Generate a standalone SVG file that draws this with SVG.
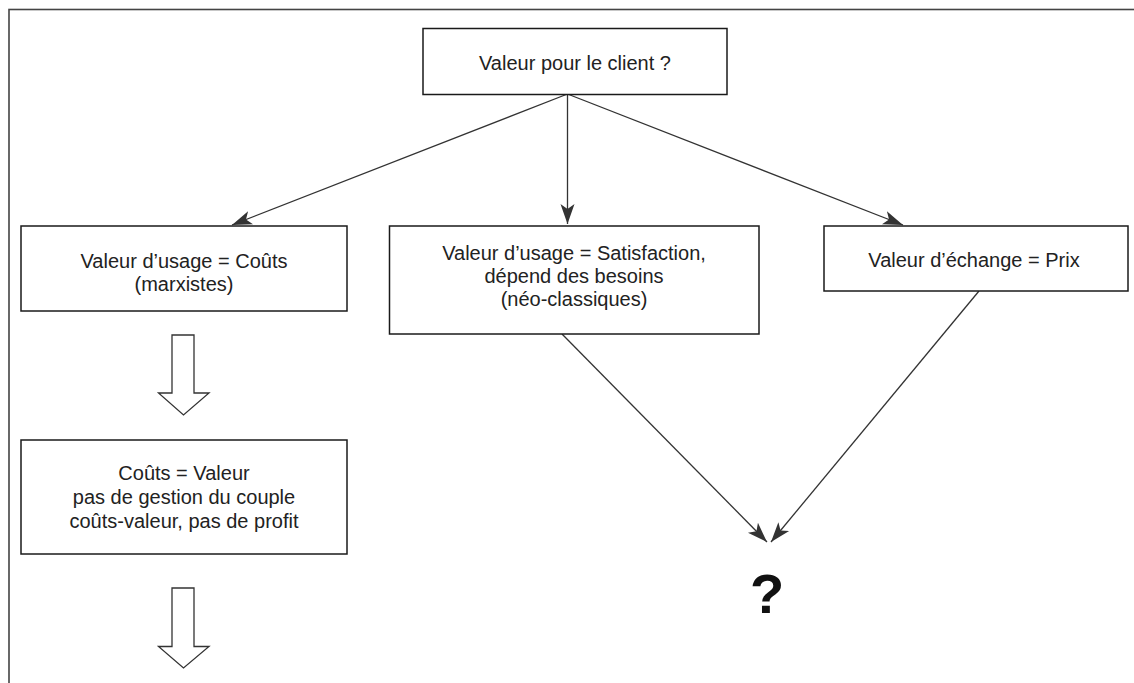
<svg xmlns="http://www.w3.org/2000/svg" width="1134" height="683" viewBox="0 0 1134 683">
<style>
.box{fill:#fff;stroke:#1a1a1a;stroke-width:1.5}
.t{font-family:"Liberation Sans","DejaVu Sans",sans-serif;font-size:20px;fill:#222;text-anchor:middle}
.q{font-family:"Liberation Sans","DejaVu Sans",sans-serif;font-size:56px;font-weight:bold;fill:#111;text-anchor:middle}
.c{stroke:#333;stroke-width:1.3;fill:none}
.hollow{fill:#fff;stroke:#333;stroke-width:1.3}
</style>
<defs>
<marker id="ah" markerUnits="userSpaceOnUse" markerWidth="22" markerHeight="16" viewBox="0 -8 22 16" refX="20" refY="0" orient="auto">
<path d="M0,-7 L20,0 L0,7 L5,0 z" fill="#333"/>
</marker>
</defs>
<rect x="9" y="9.5" width="1140" height="700" fill="none" stroke="#444" stroke-width="1.6"/>
<g id="connectors">
<line class="c" x1="567.5" y1="94" x2="232" y2="225" marker-end="url(#ah)"/>
<line class="c" x1="567.5" y1="94" x2="567.5" y2="224" marker-end="url(#ah)"/>
<line class="c" x1="567.5" y1="94" x2="903" y2="225" marker-end="url(#ah)"/>
<line class="c" x1="562" y1="334" x2="767" y2="542" marker-end="url(#ah)"/>
<line class="c" x1="979" y1="291" x2="771" y2="542" marker-end="url(#ah)"/>
<path class="hollow" d="M172,335 L194,335 L194,393 L209,393 L183.5,415 L158.5,393 L172,393 z"/>
<path class="hollow" d="M172,588 L194,588 L194,646.5 L209,646.5 L183.5,668 L158.5,646.5 L172,646.5 z"/>
</g>
<g id="n-top">
<rect class="box" x="423" y="28.5" width="304" height="66"/>
<text class="t" x="575" y="70">Valeur pour le client ?</text>
</g>
<g id="n-marx">
<rect class="box" x="21" y="226" width="326" height="85"/>
<text class="t" x="184" y="268">Valeur d’usage = Coûts</text>
<text class="t" x="184" y="291">(marxistes)</text>
</g>
<g id="n-neo">
<rect class="box" x="389.5" y="226" width="369.5" height="108"/>
<text class="t" x="574" y="260">Valeur d’usage = Satisfaction,</text>
<text class="t" x="574" y="283">dépend des besoins</text>
<text class="t" x="574" y="306">(néo-classiques)</text>
</g>
<g id="n-prix">
<rect class="box" x="824" y="226" width="304" height="65"/>
<text class="t" x="974" y="267">Valeur d’échange = Prix</text>
</g>
<g id="n-couts">
<rect class="box" x="21" y="440" width="326" height="114"/>
<text class="t" x="184" y="480">Coûts = Valeur</text>
<text class="t" x="184" y="504">pas de gestion du couple</text>
<text class="t" x="184" y="528">coûts-valeur, pas de profit</text>
</g>
<g id="n-q">
<text class="q" x="767" y="613">?</text>
</g>
</svg>
